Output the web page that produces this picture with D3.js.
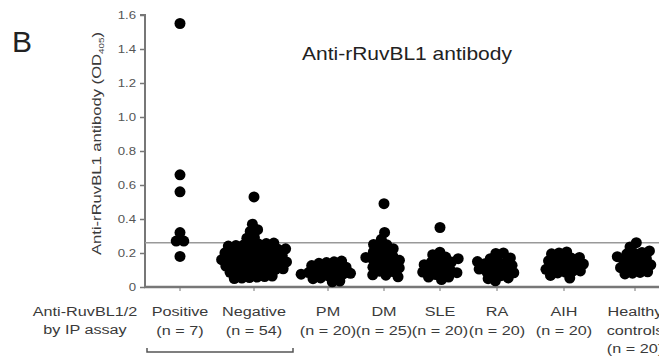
<!DOCTYPE html>
<html>
<head>
<meta charset="utf-8">
<script src="https://cdn.jsdelivr.net/npm/d3@7"></script>
<style>
  body { margin: 0; background: #fff; }
  text { font-family: "Liberation Sans", Arial, sans-serif; }
</style>
</head>
<body>
<div id="chart"></div>
<script>
// groups shown along the bottom
var categories = ["Positive", "Negative", "PM", "DM", "SLE", "RA", "AIH", "Healthy"];
var labelLines = [
    ["Positive", "(n = 7)"],
    ["Negative", "(n = 54)"],
    ["PM", "(n = 20)"],
    ["DM", "(n = 25)"],
    ["SLE", "(n = 20)"],
    ["RA", "(n = 20)"],
    ["AIH", "(n = 20)"],
    ["Healthy", "controls", "(n = 20)"]
];

// OD405 values
var positiveVals = [1.55, 0.66, 0.56, 0.32, 0.27, 0.27, 0.18];
var negativeVals = [0.53, 0.36, 0.34, 0.32, 0.27, 0.26, 0.25, 0.24, 0.23, 0.23,
    0.22, 0.22, 0.21, 0.21, 0.20, 0.20, 0.20, 0.19, 0.19, 0.19,
    0.18, 0.18, 0.18, 0.17, 0.17, 0.17, 0.17, 0.16, 0.16, 0.16,
    0.16, 0.15, 0.15, 0.15, 0.15, 0.14, 0.14, 0.14, 0.14, 0.13,
    0.13, 0.13, 0.12, 0.12, 0.12, 0.11, 0.11, 0.11, 0.10, 0.10,
    0.09, 0.09, 0.08, 0.07];
var pmVals = [0.15, 0.13, 0.12, 0.12, 0.11, 0.11, 0.10, 0.10, 0.10, 0.09,
    0.09, 0.09, 0.08, 0.08, 0.08, 0.07, 0.07, 0.06, 0.06, 0.05];
var dmVals = [0.49, 0.32, 0.28, 0.25, 0.24, 0.22, 0.21, 0.20, 0.19, 0.18,
    0.18, 0.17, 0.16, 0.16, 0.15, 0.14, 0.13, 0.13, 0.12, 0.11,
    0.10, 0.10, 0.09, 0.08, 0.07];
var sleVals = [0.35, 0.20, 0.19, 0.17, 0.16, 0.15, 0.14, 0.13, 0.13, 0.12,
    0.11, 0.11, 0.10, 0.10, 0.09, 0.09, 0.08, 0.07, 0.07, 0.06];
var raVals = [0.20, 0.18, 0.16, 0.15, 0.14, 0.14, 0.13, 0.12, 0.12, 0.11,
    0.11, 0.10, 0.10, 0.10, 0.09, 0.09, 0.08, 0.08, 0.07, 0.07];
var aihVals = [0.20, 0.19, 0.18, 0.17, 0.16, 0.15, 0.15, 0.14, 0.14, 0.13,
    0.13, 0.12, 0.12, 0.11, 0.11, 0.10, 0.10, 0.09, 0.08, 0.08];
var healthyVals = [0.26, 0.23, 0.21, 0.20, 0.19, 0.18, 0.17, 0.16, 0.16, 0.15,
    0.14, 0.14, 0.13, 0.13, 0.12, 0.12, 0.11, 0.10, 0.09, 0.08];
var groupVals = [positiveVals, negativeVals, pmVals, dmVals, sleVals, raVals, aihVals, healthyVals];

var cutoff = 0.26;
var yTicks = [0, 0.2, 0.4, 0.6, 0.8, 1.0, 1.2, 1.4, 1.6];

var svgWidth = 659;
var svgHeight = 360;
var axisX = 145;
var axisY = 287;
var textStretch = 1.2;

var svg = d3.select("#chart")
    .append("svg")
    .attr("width", svgWidth)
    .attr("height", svgHeight);

var yScale = d3.scaleLinear().domain([0, 1.6]).range([axisY, 15]);
var xScale = d3.scaleOrdinal()
    .domain(categories)
    .range([180, 254, 328, 384, 440, 497, 564, 635]);

// stretched text helper (the figure is wider than tall)
function label(g, x, y, str, size, anchor, color) {
    return g.append("text")
        .attr("transform", `translate(${x},${y}) scale(${textStretch},1)`)
        .attr("font-size", size)
        .attr("fill", color || "#333")
        .style("text-anchor", anchor || "middle")
        .text(str);
}

// panel letter and title
svg.append("text")
    .attr("x", 12).attr("y", 52)
    .attr("font-size", 30)
    .attr("fill", "#222")
    .text("B");
label(svg, 302, 60, "Anti-rRuvBL1 antibody", 17.5, "start", "#222");

// y axis
var leftAxis = d3.axisLeft(yScale)
    .tickValues(yTicks)
    .tickSize(5)
    .tickPadding(4)
    .tickFormat(d => d === 0 ? "0" : d3.format(".1f")(d));

var yAxisG = svg.append("g")
    .attr("transform", `translate(${axisX},0)`)
    .call(leftAxis);
yAxisG.select(".domain").attr("stroke", "#777").attr("stroke-width", 2)
    .attr("d", `M-5,${yScale(1.6)}H0V${axisY}`);
yAxisG.selectAll(".tick line").attr("stroke", "#777").attr("stroke-width", 1.5);
yAxisG.selectAll(".tick text")
    .attr("font-size", 11)
    .attr("fill", "#555")
    .attr("transform", "scale(1.2,1)")
    .attr("x", -9 / 1.2);

// y axis title
svg.append("text")
    .attr("transform", `translate(101,${(32 + 255) / 2}) rotate(-90)`)
    .attr("font-size", 13.5)
    .attr("fill", "#3a3a3a")
    .style("text-anchor", "middle")
    .attr("textLength", 223)
    .attr("lengthAdjust", "spacingAndGlyphs")
    .html('Anti-rRuvBL1 antibody (OD<tspan font-size="8" dy="3">405</tspan><tspan dy="-3">)</tspan>');

// cutoff line
svg.append("line")
    .attr("x1", axisX).attr("x2", svgWidth)
    .attr("y1", yScale(cutoff)).attr("y2", yScale(cutoff))
    .attr("stroke", "#999").attr("stroke-width", 1.5);

// x axis line with small category ticks
svg.append("line")
    .attr("x1", axisX - 1).attr("x2", svgWidth)
    .attr("y1", axisY).attr("y2", axisY)
    .attr("stroke", "#777").attr("stroke-width", 2.5);
svg.selectAll(".xtick")
    .data(categories)
    .enter()
    .append("line")
    .attr("class", "xtick")
    .attr("x1", d => xScale(d)).attr("x2", d => xScale(d))
    .attr("y1", axisY).attr("y2", axisY + 4)
    .attr("stroke", "#777").attr("stroke-width", 1);

// beeswarm points
var nodes = [];
groupVals.forEach(function(vals, i) {
    vals.forEach(function(v) {
        nodes.push({ cat: categories[i], v: v, x: xScale(categories[i]), y: yScale(v) });
    });
});

var sim = d3.forceSimulation(nodes)
    .force("x", d3.forceX(d => xScale(d.cat)).strength(0.1))
    .force("y", d3.forceY(d => yScale(d.v)).strength(0.8))
    .force("collide", d3.forceCollide(3.8).iterations(3))
    .stop();
for (var i = 0; i < 300; i++) sim.tick();

svg.selectAll("circle")
    .data(nodes)
    .enter()
    .append("circle")
    .attr("cx", d => d.x)
    .attr("cy", d => d.y)
    .attr("r", 5.5)
    .attr("fill", "#000");

// bottom labels
var rowLabel = svg.append("g");
label(rowLabel, 85, 316, "Anti-RuvBL1/2", 13.5, "middle", "#3a3a3a");
label(rowLabel, 85, 334, "by IP assay", 13.5, "middle", "#3a3a3a");

categories.forEach(function(c, i) {
    labelLines[i].forEach(function(line, j) {
        label(svg, xScale(c), 316 + j * 18.5, line, 13.5, "middle", "#3a3a3a");
    });
});

// bracket under Positive / Negative
svg.append("path")
    .attr("d", `M${xScale("Positive") - 33},348V352H${xScale("Negative") + 39}V348`)
    .attr("fill", "none")
    .attr("stroke", "#555")
    .attr("stroke-width", 1.5);
</script>
</body>
</html>
